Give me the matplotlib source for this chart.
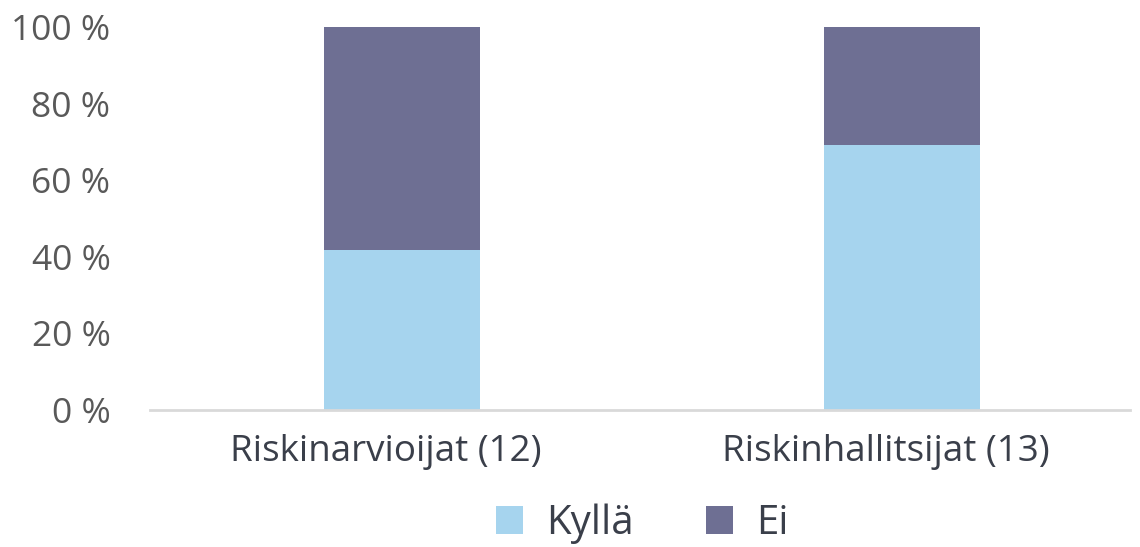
import matplotlib
matplotlib.use("Agg")
import matplotlib.pyplot as plt
import matplotlib.transforms as mtransforms
from matplotlib.ticker import FuncFormatter

categories = ["Riskinarvioijat (12)", "Riskinhallitsijat (13)"]
kylla = [41.7, 69.2]
ei = [58.3, 30.8]
series_names = ["Kyllä", "Ei"]
yticks = [0, 20, 40, 60, 80, 100]

c_kylla = "#A6D4EE"
c_ei = "#6E6F93"

plt.rcParams['font.family'] = ['Open Sans', 'DejaVu Sans']

fig = plt.figure(figsize=(11.4, 5.47), dpi=100)
ax = fig.add_axes([150/1140, 1-410/547, 980/1140, 383/547])

x = list(range(len(categories)))
b1 = ax.bar(x, kylla, width=0.312, color=c_kylla, label=series_names[0], zorder=2)
b2 = ax.bar(x, ei, width=0.312, bottom=kylla, color=c_ei, label=series_names[1], zorder=2)

ax.set_xlim(-0.504, 1.456)
ax.set_ylim(0, 100)
ax.set_yticks(yticks)
ax.yaxis.set_major_formatter(FuncFormatter(lambda v, p: f"{int(v)} %"))
ax.set_xticks(x)
ax.set_xticklabels(categories)

for s in ["top", "right", "left"]:
    ax.spines[s].set_visible(False)
ax.spines["bottom"].set_color("#D9D9D9")
ax.spines["bottom"].set_linewidth(2)
ax.tick_params(axis="y", length=0, labelsize=25.5, labelcolor="#595959", pad=28.5)
ax.tick_params(axis="x", length=0, labelsize=26.5, labelcolor="#3A3F4A", pad=17)

offset = mtransforms.ScaledTranslation(-16/100, 0, fig.dpi_scale_trans)
for lbl in ax.get_xticklabels():
    lbl.set_transform(lbl.get_transform() + offset)

leg = fig.legend(handles=[b1, b2], labels=series_names, loc="center", bbox_to_anchor=(642/1140, 1-524/547),
                 ncol=2, frameon=False, fontsize=29, handlelength=0.67, handleheight=0.67,
                 handletextpad=0.57, columnspacing=1.8)
for t in leg.get_texts():
    t.set_color("#3A3F4A")

fig.savefig("out.png", dpi=100)
